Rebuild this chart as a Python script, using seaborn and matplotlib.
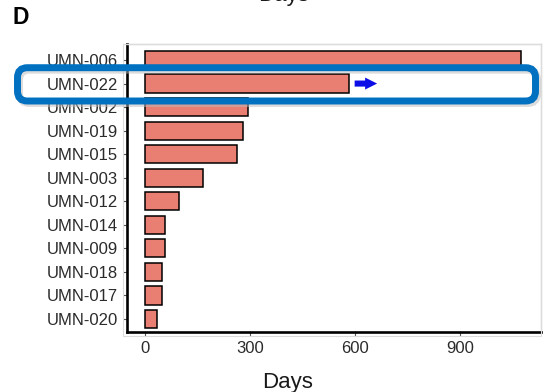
import matplotlib
matplotlib.use("Agg")
import matplotlib.pyplot as plt
from matplotlib.patches import FancyBboxPatch, Rectangle
import seaborn as sns
import pandas as pd

# Time on study per patient (days), top to bottom
patients = ["UMN-006", "UMN-022", "UMN-002", "UMN-019", "UMN-015", "UMN-003",
            "UMN-012", "UMN-014", "UMN-009", "UMN-018", "UMN-017", "UMN-020"]
days = [1075, 583, 294, 280, 263, 166, 97, 57, 57, 49, 49, 34]
ongoing = ["UMN-022"]
x_ticks = [0, 300, 600, 900]

df = pd.DataFrame({"patient": patients, "days": days})

sns.set_theme(style="white")
plt.rcParams["font.family"] = ["Liberation Sans", "DejaVu Sans"]

W, H = 549, 392
fig = plt.figure(figsize=(W / 100, H / 100), dpi=100)
ax = fig.add_axes([127 / W, 1 - 332 / H, (541 - 127) / W, (332 - 44) / H])

sns.barplot(data=df, x="days", y="patient", order=patients, orient="h",
            color="#E97F72", edgecolor="black", linewidth=1.1, width=0.77,
            saturation=1, ax=ax)

ax.set_xlim(-51, 1131)
ax.set_ylim(11.55, -0.68)
ax.set_xticks(x_ticks)
ax.set_xticklabels([str(t) for t in x_ticks])
ax.set_xlabel("")
ax.set_ylabel("")
ax.tick_params(axis="both", which="both", labelsize=12, labelcolor="#2b2b2b",
               length=3, width=0.8, color="#555555", pad=3.5,
               left=True, bottom=True)

for side in ("top", "right"):
    ax.spines[side].set_color("#d4d4d4")
    ax.spines[side].set_linewidth(1.0)
for side in ("left", "bottom"):
    ax.spines[side].set_color("black")
    ax.spines[side].set_linewidth(1.9)

# Light panel border slightly outside the axis lines
fig.patches.append(Rectangle((122.5 / W, 1 - 336 / H), (541 - 122.5) / W,
                             (336 - 44) / H, transform=fig.transFigure,
                             fill=False, edgecolor="#dcdcdc", linewidth=0.8,
                             zorder=0))

# Arrow marking the ongoing patient
for name in ongoing:
    i = patients.index(name)
    v = days[i]
    ax.annotate("", xy=(v + 88, i), xytext=(v + 8, i),
                arrowprops=dict(arrowstyle="simple,head_length=0.75,head_width=0.75,tail_width=0.38",
                                mutation_scale=11.5, color="#0c0ce6", lw=0))

# Highlight box around the ongoing row
x0, y0, x1, y1 = 17.5, 67.7, 535.5, 101.0
shadow = FancyBboxPatch(((x0 + 2) / W, 1 - (y1 + 2.5) / H), (x1 - x0) / W, (y1 - y0) / H,
                        boxstyle="round,pad=0,rounding_size=0.018",
                        transform=fig.transFigure, fill=False,
                        edgecolor="#bbbbbb", linewidth=5, alpha=0.5, zorder=9)
box = FancyBboxPatch((x0 / W, 1 - y1 / H), (x1 - x0) / W, (y1 - y0) / H,
                     boxstyle="round,pad=0,rounding_size=0.018",
                     transform=fig.transFigure, fill=False,
                     edgecolor="#0070C0", linewidth=5, zorder=10,
                     mutation_aspect=W / H)
fig.patches.extend([shadow, box])
shadow.set_mutation_aspect(W / H)

fig.text(12 / W, 1 - 23.5 / H, "D", fontsize=16.5, fontweight="bold",
         color="black", ha="left", va="baseline")
fig.text(284 / W, 1 - 1.5 / H, "Days", fontsize=16, color="#1a1a1a",
         ha="center", va="baseline")
fig.text(288 / W, 1 - 388 / H, "Days", fontsize=16, color="#1a1a1a",
         ha="center", va="baseline")

fig.savefig("out.png", dpi=100)
